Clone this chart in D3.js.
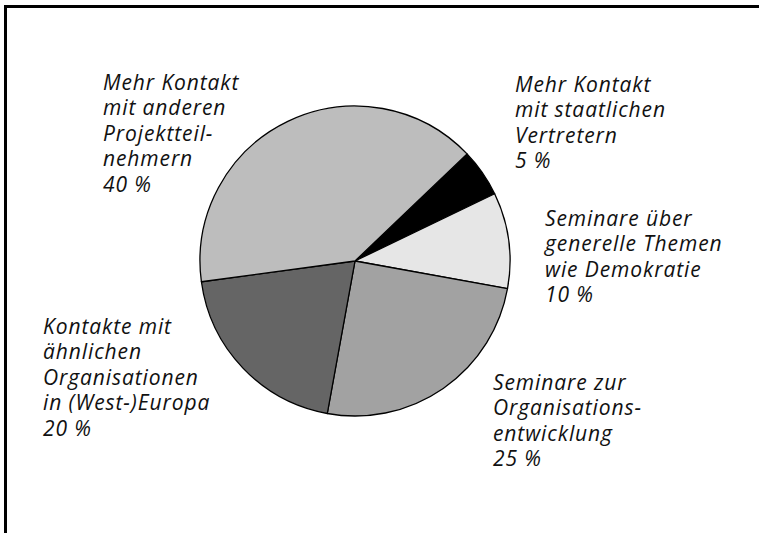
<!DOCTYPE html>
<html>
<head>
<meta charset="utf-8">
<script src="https://cdn.jsdelivr.net/npm/d3@7"></script>
<style>
  body { margin: 0; background: #fff; }
  svg { display: block; }
  .lbl { font-family: "Open Sans", "DejaVu Sans", sans-serif; font-style: italic; font-size: 21px; fill: #111; letter-spacing: 0.9px; }
</style>
</head>
<body>
<div id="chart"></div>
<script>
// data
const categories = [
  'Mehr Kontakt|mit staatlichen|Vertretern',
  'Seminare über|generelle Themen|wie Demokratie',
  'Seminare zur|Organisations-|entwicklung',
  'Kontakte mit|ähnlichen|Organisationen|in (West-)Europa',
  'Mehr Kontakt|mit anderen|Projektteil-|nehmern'
];
const values = [5, 10, 25, 20, 40];
const valueLabels = ['5 %', '10 %', '25 %', '20 %', '40 %'];

// layout
const fills = ['#000000', '#e6e6e6', '#a2a2a2', '#656565', '#bdbdbd'];
const labelPos = [[515, 92], [545, 226], [493, 390], [43, 334], [103, 90]];
const lineH = 25.4;

const width = 759, height = 533;
const cx = 355, cy = 261, radius = 155;
const startDeg = 46.3;

const svg = d3.select('#chart').append('svg')
  .attr('width', width)
  .attr('height', height);

// frame (top + left only)
svg.append('path')
  .attr('d', 'M5.5,' + height + 'V6.5H' + width)
  .attr('fill', 'none')
  .attr('stroke', '#000')
  .attr('stroke-width', 3);

const pie = d3.pie()
  .sort(null)
  .value(d => d)
  .startAngle(startDeg * Math.PI / 180)
  .endAngle(startDeg * Math.PI / 180 + 2 * Math.PI);

const arc = d3.arc().innerRadius(0).outerRadius(radius);

const g = svg.append('g').attr('transform', 'translate(' + cx + ',' + cy + ')');
g.selectAll('path')
  .data(pie(values))
  .enter()
  .append('path')
    .attr('d', arc)
    .attr('fill', (d, i) => fills[i])
    .attr('stroke', '#000')
    .attr('stroke-width', 1.3)
    .attr('stroke-linejoin', 'round');

// labels
categories.forEach(function(c, i){
  const lines = c.split('|').concat([valueLabels[i]]);
  const t = svg.append('text')
    .attr('class', 'lbl')
    .attr('x', labelPos[i][0])
    .attr('y', labelPos[i][1]);
  lines.forEach(function(l, j){
    t.append('tspan')
      .attr('x', labelPos[i][0])
      .attr('dy', j === 0 ? 0 : lineH)
      .text(l);
  });
});
</script>
</body>
</html>
